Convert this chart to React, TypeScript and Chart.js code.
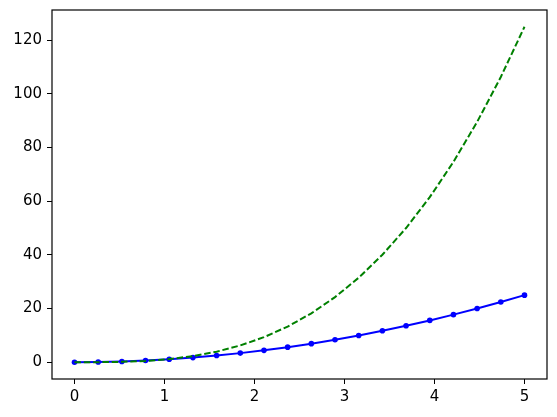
import { useEffect, useRef } from "react";
import { Chart, registerables, type ChartConfiguration, type Plugin } from "chart.js";

Chart.register(...registerables);

const xs = [
  0, 0.2632, 0.5263, 0.7895, 1.0526, 1.3158, 1.5789, 1.8421, 2.1053, 2.3684,
  2.6316, 2.8947, 3.1579, 3.4211, 3.6842, 3.9474, 4.2105, 4.4737, 4.7368, 5,
];
const squares = [
  0, 0.069, 0.277, 0.623, 1.108, 1.731, 2.493, 3.393, 4.432, 5.609, 6.925,
  8.38, 9.972, 11.704, 13.573, 15.582, 17.729, 20.014, 22.438, 25,
];
const cubes = [
  0, 0.018, 0.146, 0.492, 1.166, 2.278, 3.936, 6.251, 9.331, 13.285, 18.224,
  24.256, 31.491, 40.039, 50.008, 61.509, 74.649, 89.54, 106.29, 125,
];
const xTicks = [0, 1, 2, 3, 4, 5];
const yTicks = [0, 20, 40, 60, 80, 100, 120];

const FONT = { family: "DejaVu Sans", size: 15 };

// matplotlib-style box round the plot area
const frame: Plugin<"line"> = {
  id: "frame",
  afterDraw(chart) {
    const { ctx, chartArea: a } = chart;
    ctx.save();
    ctx.strokeStyle = "#000";
    ctx.lineWidth = 1.2;
    ctx.strokeRect(a.left, a.top, a.right - a.left, a.bottom - a.top);
    ctx.restore();
  },
};

export default function App() {
  const canvasRef = useRef<HTMLCanvasElement>(null);

  useEffect(() => {
    if (!canvasRef.current) return;
    document.body.style.margin = "0";

    const cfg: ChartConfiguration<"line"> = {
      type: "line",
      data: {
        datasets: [
          {
            data: cubes.map((y, i) => ({ x: xs[i], y })),
            borderColor: "#008000",
            borderWidth: 2,
            borderDash: [6.5, 2.8],
            pointRadius: 0,
            fill: false,
            order: 0,
          },
          {
            data: squares.map((y, i) => ({ x: xs[i], y })),
            borderColor: "#0000ff",
            backgroundColor: "#0000ff",
            borderWidth: 2,
            pointRadius: 2.8,
            pointBorderWidth: 0,
            fill: false,
            order: 1,
          },
        ],
      },
      options: {
        responsive: false,
        animation: false,
        layout: { padding: { top: 10, right: 10, left: 0, bottom: 0 } },
        plugins: { legend: { display: false }, tooltip: { enabled: false } },
        scales: {
          x: {
            type: "linear",
            min: -0.25,
            max: 5.25,
            afterBuildTicks: (s) => {
              s.ticks = xTicks.map((value) => ({ value }));
            },
            afterFit: (s: any) => {
              s.height = 38;
              s.paddingLeft = 0;
              s.paddingRight = 0;
            },
            grid: { drawOnChartArea: false, tickLength: 5, color: "#000" },
            border: { display: false },
            ticks: { color: "#000", font: FONT, padding: 4, maxRotation: 0 },
          },
          y: {
            type: "linear",
            min: -6.25,
            max: 131.25,
            afterBuildTicks: (s) => {
              s.ticks = yTicks.map((value) => ({ value }));
            },
            afterFit: (s: any) => {
              s.width = 52;
              s.paddingTop = 0;
              s.paddingBottom = 0;
            },
            grid: { drawOnChartArea: false, tickLength: 5, color: "#000" },
            border: { display: false },
            ticks: { color: "#000", font: FONT, padding: 5 },
          },
        },
      },
      plugins: [frame],
    };

    const chart = new Chart(canvasRef.current, cfg);
    return () => {
      chart.destroy();
    };
  }, []);

  return (
    <div style={{ width: 557, height: 417, background: "#fff" }}>
      <canvas ref={canvasRef} width={557} height={417} />
    </div>
  );
}
